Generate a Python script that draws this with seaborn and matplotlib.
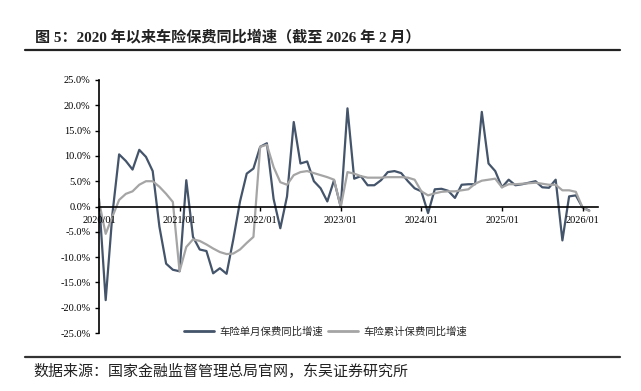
import numpy as np
import pandas as pd
import matplotlib
matplotlib.use("Agg")
import matplotlib.pyplot as plt
import seaborn as sns
from matplotlib.lines import Line2D

# monthly series, 2020/01 - 2026/02 (%)
months = pd.date_range("2020-01-01", "2026-02-01", freq="MS")
single_month = [1.5, -18.5, -1.5, 10.3, 9.0, 7.3, 11.2, 9.8, 7.0, -4.0, -11.3, -12.5,
                -12.8, 5.2, -6.0, -8.5, -8.8, -13.2, -12.2, -13.3, -6.5, 1.0, 6.5, 7.5,
                11.8, 12.5, 1.5, -4.3, 2.0, 16.7, 8.5, 8.9, 5.0, 3.6, 1.0, 5.2,
                -0.1, 19.4, 5.5, 6.0, 4.2, 4.2, 5.2, 6.8, 7.0, 6.6, 5.0, 3.6,
                3.0, -1.3, 3.4, 3.5, 3.1, 1.7, 4.3, 4.4, 4.4, 18.7, 8.5, 7.0,
                3.8, 5.3, 4.2, 4.4, 4.7, 5.0, 3.8, 3.7, 5.3, -6.7, 2.0, 2.2,
                -0.2, -0.8]
cumulative = [1.0, -5.4, -2.0, 1.3, 2.5, 3.0, 4.3, 5.0, 5.0, 3.9, 2.5, 0.9,
              -12.8, -8.0, -6.5, -6.8, -7.5, -8.3, -9.0, -9.4, -9.3, -8.5, -7.2, -6.0,
              11.8, 12.2, 7.8, 4.8, 4.3, 6.2, 6.8, 7.0, 6.6, 6.2, 5.8, 5.3,
              -0.1, 6.8, 6.5, 6.0, 5.7, 5.7, 5.7, 5.8, 5.8, 5.8, 5.7, 5.3,
              3.0, 2.2, 2.6, 2.9, 3.0, 3.0, 3.2, 3.4, 4.5, 5.1, 5.3, 5.5,
              3.8, 4.4, 4.4, 4.5, 4.6, 4.7, 4.5, 4.3, 4.3, 3.2, 3.2, 2.9,
              -0.2, -0.9]
series_names = ["车险单月保费同比增速", "车险累计保费同比增速"]
x_tick_labels = ["2020/01", "2021/01", "2022/01", "2023/01", "2024/01", "2025/01", "2026/01"]
y_ticks = [-25, -20, -15, -10, -5, 0, 5, 10, 15, 20, 25]

title = "图 5：2020 年以来车险保费同比增速（截至 2026 年 2 月）"
source = "数据来源：国家金融监督管理总局官网，东吴证券研究所"

sns.set_theme(style="white")
plt.rcParams["font.family"] = ["Liberation Serif", "Noto Sans CJK SC", "DejaVu Sans"]

df = pd.DataFrame({
    "idx": np.arange(len(months)),
    series_names[0]: single_month,
    series_names[1]: cumulative,
})
long = df.melt(id_vars="idx", var_name="series", value_name="yoy")

colors = {series_names[0]: "#44546a", series_names[1]: "#a5a5a5"}

fig = plt.figure(figsize=(6.41, 3.91), dpi=100)
ax = fig.add_axes([0.1544, 0.1483, 0.7785, 0.6471])

sns.lineplot(data=long, x="idx", y="yoy", hue="series", palette=colors,
             linewidth=1.6, legend=False, ax=ax)

ax.set_xlim(0, 74.3)
ax.set_ylim(-25, 25)
ax.set_xticks(np.arange(0, 73, 12))
ax.set_xticklabels(x_tick_labels)
ax.set_yticks(y_ticks)
ax.set_yticklabels([f"{v:.1f}%" for v in y_ticks])
ax.set_xlabel("")
ax.set_ylabel("")

for s in ["top", "right"]:
    ax.spines[s].set_visible(False)
ax.spines["bottom"].set_position(("data", 0))
ax.spines["bottom"].set_color("black")
ax.spines["bottom"].set_linewidth(1.2)
ax.spines["left"].set_color("black")
ax.spines["left"].set_linewidth(1.2)
ax.tick_params(axis="both", which="major", direction="out", length=3, width=1,
               colors="black", labelsize=7.5, pad=3, left=True, bottom=True)
ax.tick_params(axis="x", pad=4)
ax.set_axisbelow(False)

handles = [Line2D([0], [0], color=colors[n], lw=2) for n in series_names]
fig.legend(handles, series_names, loc="center", bbox_to_anchor=(0.508, 1 - 331.5 / 391),
           ncol=2, frameon=False, handlelength=2.9, handletextpad=0.5,
           columnspacing=0.5, prop={"family": ["Noto Sans CJK SC"], "size": 7.5})

fig.text(35 / 641, 1 - 37 / 391, title, fontsize=10.9, fontweight="bold",
         ha="left", va="center", color="#222222")
fig.add_artist(Line2D([25 / 641, 620 / 641], [1 - 50 / 391] * 2, color="#222222", lw=1.6))
fig.add_artist(Line2D([25 / 641, 620 / 641], [1 - 357 / 391] * 2, color="#333333", lw=1.6))
fig.text(33 / 641, 1 - 371 / 391, source, fontsize=10.8, ha="left", va="center",
         color="#222222", family=["Noto Sans CJK SC"])

fig.savefig("out.png", dpi=100, facecolor="white")
